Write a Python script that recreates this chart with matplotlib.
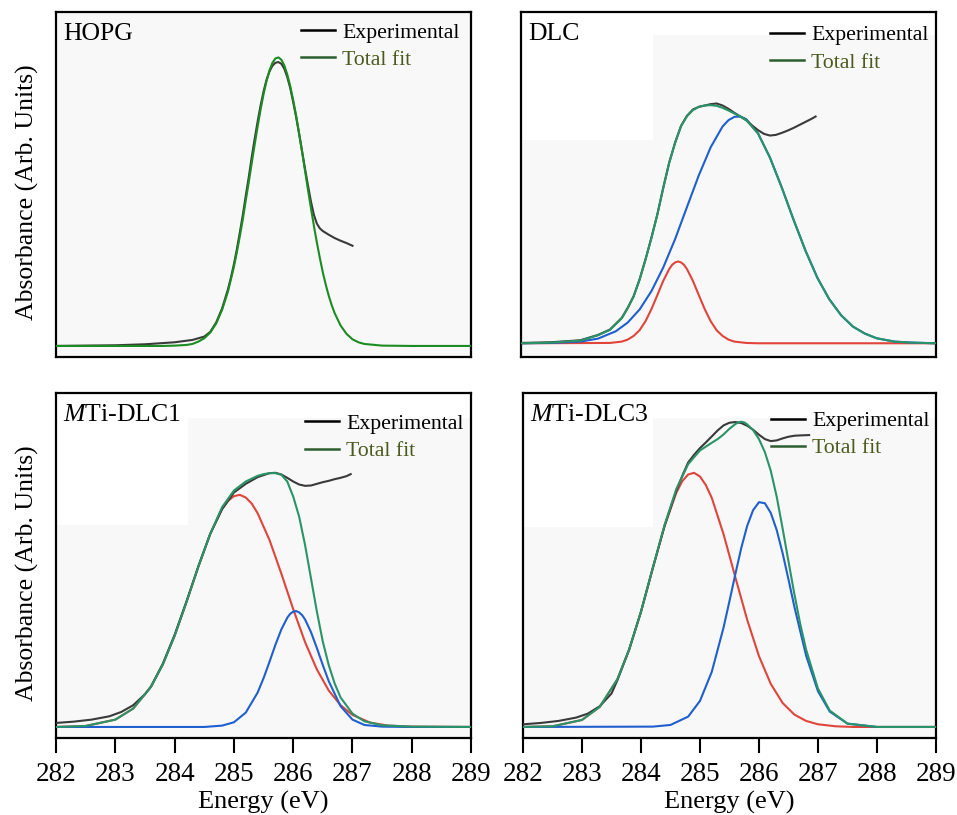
import matplotlib
matplotlib.use("Agg")
import matplotlib.pyplot as plt
from matplotlib.lines import Line2D
from matplotlib.patches import Rectangle

plt.rcParams['font.family'] = ['Liberation Serif', 'DejaVu Serif']
plt.rcParams['mathtext.fontset'] = 'custom'
plt.rcParams['mathtext.rm'] = 'Liberation Serif'
plt.rcParams['mathtext.it'] = 'Liberation Serif:italic'

# ---- data (energy in eV, absorbance in arb. units) ----

# HOPG
hopg_x_exp = [282.0, 282.5, 283.0, 283.5, 284.0, 284.3, 284.5, 284.6, 284.7, 284.8,
              284.9, 284.95, 285.0, 285.05, 285.1, 285.15, 285.2, 285.25, 285.3, 285.35,
              285.4, 285.45, 285.5, 285.55, 285.6, 285.65, 285.7, 285.75, 285.8, 285.85,
              285.9, 285.95, 286.0, 286.05, 286.1, 286.15, 286.2, 286.25, 286.3, 286.35,
              286.4, 286.45, 286.5, 286.6, 286.7, 286.8, 286.9, 287.0]
hopg_exp = [0.000, 0.001, 0.002, 0.005, 0.011, 0.018, 0.028, 0.042, 0.070, 0.112,
            0.170, 0.205, 0.245, 0.290, 0.340, 0.392, 0.450, 0.505, 0.565, 0.620,
            0.672, 0.720, 0.762, 0.797, 0.822, 0.839, 0.848, 0.850, 0.845, 0.830,
            0.805, 0.772, 0.730, 0.685, 0.635, 0.583, 0.530, 0.480, 0.432, 0.392,
            0.366, 0.352, 0.344, 0.333, 0.323, 0.315, 0.308, 0.300]
hopg_x_fit = [282.0, 283.0, 283.8, 284.0, 284.2, 284.3, 284.4, 284.5, 284.6, 284.7,
              284.8, 284.9, 285.0, 285.05, 285.1, 285.15, 285.2, 285.25, 285.3, 285.35,
              285.4, 285.45, 285.5, 285.55, 285.6, 285.65, 285.7, 285.75, 285.8, 285.85,
              285.9, 285.95, 286.0, 286.05, 286.1, 286.15, 286.2, 286.25, 286.3, 286.35,
              286.4, 286.45, 286.5, 286.55, 286.6, 286.65, 286.7, 286.8, 286.9, 287.0,
              287.1, 287.2, 287.5, 288.0, 289.0]
hopg_fit = [0.000, 0.000, 0.000, 0.001, 0.003, 0.006, 0.013, 0.023, 0.040, 0.067,
            0.108, 0.163, 0.237, 0.281, 0.329, 0.379, 0.436, 0.490, 0.547, 0.603,
            0.657, 0.708, 0.754, 0.793, 0.825, 0.848, 0.861, 0.864, 0.857, 0.840,
            0.813, 0.778, 0.736, 0.689, 0.636, 0.581, 0.524, 0.467, 0.412, 0.359,
            0.309, 0.263, 0.220, 0.183, 0.150, 0.122, 0.098, 0.061, 0.036, 0.020,
            0.011, 0.006, 0.001, 0.000, 0.000]

# DLC
dlc_x_exp = [282.0, 282.5, 283.0, 283.3, 283.5, 283.7, 283.8, 283.9, 284.0, 284.1,
             284.2, 284.3, 284.4, 284.5, 284.6, 284.7, 284.8, 284.9, 285.0, 285.1,
             285.2, 285.3, 285.4, 285.5, 285.6, 285.7, 285.8, 285.9, 286.0, 286.1,
             286.2, 286.3, 286.4, 286.5, 286.6, 286.7, 286.8, 286.9, 286.97]
dlc_exp = [0.001, 0.003, 0.009, 0.025, 0.041, 0.076, 0.106, 0.141, 0.191, 0.251,
           0.316, 0.386, 0.466, 0.541, 0.601, 0.651, 0.681, 0.700, 0.708, 0.712,
           0.716, 0.718, 0.712, 0.702, 0.690, 0.679, 0.668, 0.652, 0.638, 0.627,
           0.622, 0.624, 0.630, 0.637, 0.645, 0.654, 0.663, 0.672, 0.679]
dlc_x_fit = [282.0, 282.5, 283.0, 283.3, 283.5, 283.7, 283.8, 283.9, 284.0, 284.1,
             284.2, 284.3, 284.4, 284.5, 284.6, 284.7, 284.8, 284.9, 285.0, 285.1,
             285.2, 285.3, 285.4, 285.5, 285.6, 285.7, 285.8, 286.0, 286.2, 286.4,
             286.6, 286.8, 287.0, 287.2, 287.4, 287.6, 287.8, 288.0, 288.3, 288.6,
             289.0]
dlc_fit = [0.000, 0.002, 0.008, 0.024, 0.040, 0.075, 0.105, 0.140, 0.190, 0.250,
           0.315, 0.385, 0.465, 0.540, 0.600, 0.650, 0.680, 0.698, 0.708, 0.712,
           0.713, 0.711, 0.705, 0.697, 0.688, 0.679, 0.668, 0.628, 0.556, 0.466,
           0.369, 0.277, 0.196, 0.132, 0.084, 0.050, 0.029, 0.015, 0.005, 0.002,
           0.000]
dlc_x_red = [282.0, 283.5, 283.7, 283.8, 283.9, 284.0, 284.1, 284.2, 284.3, 284.4,
             284.5, 284.55, 284.6, 284.65, 284.7, 284.75, 284.8, 284.9, 285.0, 285.1,
             285.2, 285.3, 285.4, 285.5, 285.6, 285.8, 286.0, 289.0]
dlc_red = [0.000, 0.001, 0.005, 0.011, 0.022, 0.039, 0.066, 0.102, 0.144, 0.187,
           0.222, 0.235, 0.242, 0.245, 0.242, 0.235, 0.222, 0.187, 0.144, 0.102,
           0.066, 0.039, 0.022, 0.011, 0.005, 0.001, 0.000, 0.000]
dlc_x_blue = [282.0, 282.5, 283.0, 283.3, 283.6, 283.8, 284.0, 284.2, 284.4, 284.6,
              284.8, 285.0, 285.2, 285.4, 285.5, 285.6, 285.7, 285.8, 286.0, 286.2,
              286.4, 286.6, 286.8, 287.0, 287.2, 287.4, 287.6, 287.8, 288.0, 288.3,
              288.6, 289.0]
dlc_blue = [0.000, 0.001, 0.005, 0.014, 0.036, 0.062, 0.101, 0.156, 0.227, 0.312,
            0.408, 0.503, 0.587, 0.649, 0.668, 0.678, 0.679, 0.671, 0.628, 0.556,
            0.466, 0.369, 0.277, 0.196, 0.132, 0.084, 0.050, 0.029, 0.015, 0.005,
            0.002, 0.000]

# MTi-DLC1
dlc1_x_exp = [282.0, 282.3, 282.6, 282.9, 283.1, 283.3, 283.5, 283.6, 283.8, 284.0,
              284.2, 284.4, 284.6, 284.8, 285.0, 285.2, 285.4, 285.6, 285.7, 285.8,
              285.9, 286.0, 286.1, 286.2, 286.3, 286.4, 286.5, 286.6, 286.7, 286.8,
              286.9, 286.97]
dlc1_exp = [0.012, 0.016, 0.022, 0.032, 0.045, 0.065, 0.098, 0.121, 0.189, 0.276,
            0.376, 0.481, 0.578, 0.652, 0.702, 0.728, 0.748, 0.760, 0.761, 0.756,
            0.746, 0.735, 0.726, 0.722, 0.723, 0.728, 0.733, 0.737, 0.742, 0.746,
            0.751, 0.757]
dlc1_x_fit = [282.0, 282.5, 283.0, 283.3, 283.6, 283.8, 284.0, 284.2, 284.4, 284.6,
              284.8, 285.0, 285.2, 285.4, 285.5, 285.6, 285.7, 285.8, 285.9, 286.0,
              286.1, 286.2, 286.3, 286.4, 286.5, 286.6, 286.7, 286.8, 287.0, 287.2,
              287.5, 288.0, 289.0]
dlc1_fit = [0.000, 0.003, 0.022, 0.055, 0.120, 0.187, 0.273, 0.374, 0.480, 0.578,
            0.658, 0.708, 0.735, 0.752, 0.757, 0.760, 0.760, 0.755, 0.735, 0.690,
            0.630, 0.545, 0.445, 0.345, 0.255, 0.185, 0.130, 0.088, 0.040, 0.017,
            0.005, 0.001, 0.000]
dlc1_x_red = [282.0, 282.5, 283.0, 283.3, 283.6, 283.8, 284.0, 284.2, 284.4, 284.6,
              284.8, 284.9, 285.0, 285.1, 285.2, 285.3, 285.4, 285.6, 285.8, 286.0,
              286.2, 286.4, 286.6, 286.8, 287.0, 287.3, 287.6, 288.0, 289.0]
dlc1_red = [0.000, 0.003, 0.022, 0.055, 0.120, 0.187, 0.273, 0.374, 0.480, 0.578,
            0.653, 0.677, 0.691, 0.695, 0.687, 0.669, 0.640, 0.560, 0.459, 0.353,
            0.254, 0.172, 0.109, 0.065, 0.036, 0.013, 0.004, 0.001, 0.000]
dlc1_x_blue = [282.0, 284.5, 284.8, 285.0, 285.2, 285.4, 285.5, 285.6, 285.7, 285.8,
               285.9, 285.95, 286.0, 286.05, 286.1, 286.15, 286.2, 286.3, 286.4, 286.5,
               286.6, 286.8, 287.0, 287.2, 287.5, 288.0, 289.0]
dlc1_blue = [0.000, 0.000, 0.004, 0.014, 0.043, 0.103, 0.146, 0.195, 0.246, 0.292,
             0.327, 0.339, 0.345, 0.347, 0.343, 0.335, 0.322, 0.284, 0.236, 0.185,
             0.137, 0.062, 0.022, 0.006, 0.001, 0.000, 0.000]

# MTi-DLC3
dlc3_x_exp = [282.0, 282.3, 282.6, 282.9, 283.1, 283.3, 283.5, 283.6, 283.8, 284.0,
              284.2, 284.4, 284.6, 284.7, 284.8, 284.9, 285.0, 285.1, 285.2, 285.3,
              285.4, 285.5, 285.6, 285.7, 285.8, 285.9, 286.0, 286.1, 286.2, 286.3,
              286.4, 286.5, 286.6, 286.7, 286.85]
dlc3_exp = [0.008, 0.012, 0.018, 0.028, 0.040, 0.062, 0.100, 0.140, 0.232, 0.345,
            0.476, 0.602, 0.708, 0.752, 0.792, 0.815, 0.835, 0.852, 0.870, 0.888,
            0.903, 0.911, 0.913, 0.910, 0.902, 0.890, 0.875, 0.862, 0.856, 0.858,
            0.864, 0.869, 0.872, 0.873, 0.874]
dlc3_x_fit = [282.0, 282.5, 283.0, 283.3, 283.6, 283.8, 284.0, 284.2, 284.4, 284.6,
              284.8, 285.0, 285.2, 285.3, 285.4, 285.5, 285.6, 285.65, 285.7, 285.75,
              285.8, 285.9, 286.0, 286.1, 286.2, 286.3, 286.4, 286.5, 286.6, 286.7,
              286.8, 287.0, 287.2, 287.5, 288.0, 289.0]
dlc3_fit = [0.000, 0.002, 0.021, 0.060, 0.143, 0.232, 0.345, 0.476, 0.605, 0.713,
            0.787, 0.828, 0.851, 0.862, 0.876, 0.893, 0.907, 0.912, 0.914, 0.912,
            0.906, 0.889, 0.862, 0.823, 0.767, 0.690, 0.595, 0.496, 0.398, 0.308,
            0.231, 0.115, 0.049, 0.010, 0.000, 0.000]
dlc3_x_red = [282.0, 282.5, 283.0, 283.3, 283.6, 283.8, 284.0, 284.2, 284.4, 284.6,
              284.7, 284.8, 284.9, 285.0, 285.1, 285.2, 285.4, 285.6, 285.8, 286.0,
              286.2, 286.4, 286.6, 286.8, 287.0, 287.3, 287.6, 289.0]
dlc3_red = [0.000, 0.002, 0.021, 0.060, 0.143, 0.232, 0.345, 0.475, 0.602, 0.702,
            0.736, 0.756, 0.761, 0.750, 0.724, 0.686, 0.577, 0.448, 0.321, 0.212,
            0.129, 0.072, 0.037, 0.018, 0.008, 0.002, 0.000, 0.000]
dlc3_x_blue = [282.0, 284.2, 284.5, 284.8, 285.0, 285.2, 285.4, 285.5, 285.6, 285.7,
               285.8, 285.9, 286.0, 286.1, 286.2, 286.3, 286.4, 286.5, 286.6, 286.8,
               287.0, 287.2, 287.5, 288.0, 289.0]
dlc3_blue = [0.000, 0.001, 0.006, 0.031, 0.078, 0.165, 0.298, 0.377, 0.458, 0.536,
             0.602, 0.649, 0.673, 0.670, 0.641, 0.590, 0.521, 0.442, 0.360, 0.213,
             0.107, 0.046, 0.010, 0.000, 0.000]

titles = ['HOPG', 'DLC', r'$\mathit{M}$Ti-DLC1', r'$\mathit{M}$Ti-DLC3']
xticks = [282, 283, 284, 285, 286, 287, 288, 289]

c_exp = '#3a3a3a'
c_red = '#e0453c'
c_blue = '#1f5fcf'
c_fit = '#2a9468'
c_fit_hopg = '#1c8c22'

panels = [
    dict(exp=(hopg_x_exp, hopg_exp), fit=(hopg_x_fit, hopg_fit), comps=[], fitcol=c_fit_hopg,
         rect=[0.0586, 0.5620, 0.4336, 0.4233], ylim=(-0.033, 1.0), leg=(0.59, 0.97), white=None),
    dict(exp=(dlc_x_exp, dlc_exp), fit=(dlc_x_fit, dlc_fit),
         comps=[(dlc_x_red, dlc_red, c_red), (dlc_x_blue, dlc_blue, c_blue)], fitcol=c_fit,
         rect=[0.5444, 0.5620, 0.4336, 0.4233], ylim=(-0.041, 0.992), leg=(0.60, 0.962),
         white=[(0, 0.933, 1, 0.07), (0, 0.629, 0.318, 0.31)]),
    dict(exp=(dlc1_x_exp, dlc1_exp), fit=(dlc1_x_fit, dlc1_fit),
         comps=[(dlc1_x_red, dlc1_red, c_red), (dlc1_x_blue, dlc1_blue, c_blue)], fitcol=c_fit,
         rect=[0.0586, 0.0945, 0.4336, 0.4233], ylim=(-0.033, 1.0), leg=(0.60, 0.94),
         white=[(0, 0.928, 1, 0.075), (0, 0.617, 0.318, 0.315)]),
    dict(exp=(dlc3_x_exp, dlc3_exp), fit=(dlc3_x_fit, dlc3_fit),
         comps=[(dlc3_x_red, dlc3_red, c_red), (dlc3_x_blue, dlc3_blue, c_blue)], fitcol=c_fit,
         rect=[0.5465, 0.0945, 0.4315, 0.4233], ylim=(-0.033, 1.0), leg=(0.60, 0.948),
         white=[(0, 0.928, 1, 0.075), (0, 0.612, 0.315, 0.32)]),
]

fig = plt.figure(figsize=(9.57, 8.15), dpi=100)

for i, p in enumerate(panels):
    ax = fig.add_axes(p['rect'])
    ax.set_facecolor('#f8f8f8')
    if p['white']:
        for (x0, y0, w, h) in p['white']:
            ax.add_patch(Rectangle((x0, y0), w, h, transform=ax.transAxes,
                                   fc='white', ec='none', zorder=0))
    for xs, ys, col in p['comps']:
        ax.plot(xs, ys, color=col, lw=1.5, zorder=2)
    ax.plot(p['exp'][0], p['exp'][1], color=c_exp, lw=1.5, zorder=3)
    ax.plot(p['fit'][0], p['fit'][1], color=p['fitcol'], lw=1.5, zorder=4)

    ax.set_xlim(282, 289)
    ax.set_ylim(*p['ylim'])
    for s in ax.spines.values():
        s.set_linewidth(1.6)
        s.set_color('black')
    ax.set_yticks([])
    ax.set_xticks(xticks)
    if i < 2:
        ax.tick_params(axis='x', bottom=False, labelbottom=False)
    else:
        ax.tick_params(axis='x', direction='out', length=10.5, width=1.5,
                       labelsize=19.5, pad=7)
        ax.set_xlabel('Energy (eV)', fontsize=19)
        ax.xaxis.set_label_coords(0.5, -0.152)
    if i % 2 == 0:
        ax.set_ylabel('Absorbance (Arb. Units)', fontsize=18.5)
        ax.yaxis.set_label_coords(-0.04, 0.478)

    ax.text(0.017, 0.968, titles[i], transform=ax.transAxes, ha='left', va='top',
            fontsize=18.5)

    handles = [Line2D([], [], color='black', lw=1.8),
               Line2D([], [], color='#2d5e2d', lw=1.8)]
    ax.legend(handles, ['Experimental', 'Total fit'], loc='upper left',
              bbox_to_anchor=p['leg'], frameon=False, fontsize=15.7,
              handlelength=1.55, handletextpad=0.35, labelspacing=0.32,
              borderpad=0, borderaxespad=0, labelcolor=['black', '#4b5a1e'])

fig.savefig('out.png', dpi=100)
